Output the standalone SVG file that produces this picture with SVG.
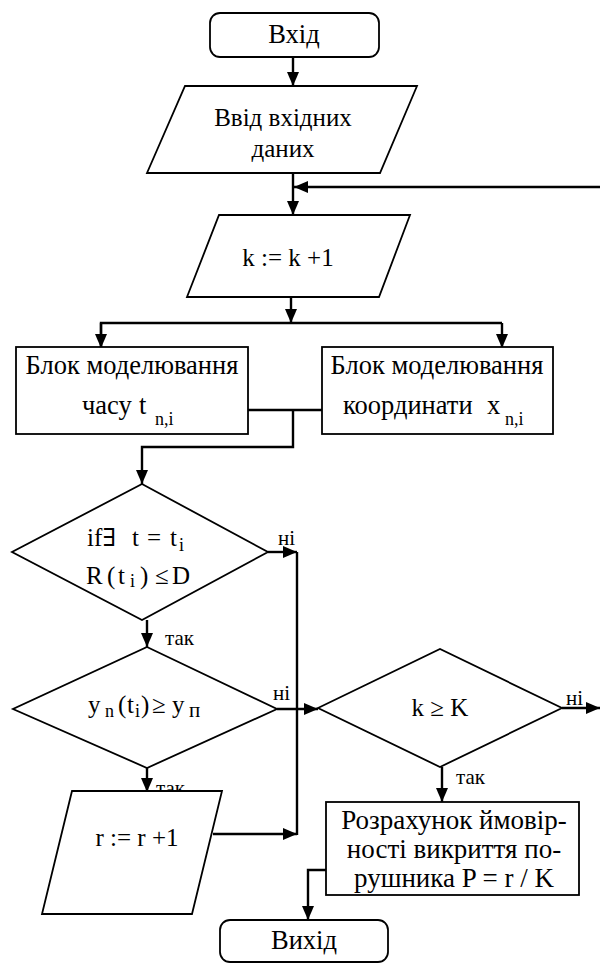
<svg xmlns="http://www.w3.org/2000/svg" width="600" height="963" viewBox="0 0 600 963" font-family="Liberation Serif, Times New Roman, DejaVu Serif, serif">
<style>
.s{fill:#fff;stroke:#000;stroke-width:1.8}
.c{fill:none;stroke:#000;stroke-width:2.4}
.a{marker-end:url(#ah)}
text{font-size:25px;fill:#000}
.m{text-anchor:middle}
.sub{font-size:18px}
.l{font-size:21px}
.b{font-size:26.5px}
.t{font-size:27px}
</style>
<defs>
<marker id="ah" markerUnits="userSpaceOnUse" markerWidth="14" markerHeight="14" viewBox="0 0 14 14" refX="14" refY="7" orient="auto">
<path d="M0,1 L14,7 L0,13 Z" fill="#000"/>
</marker>
</defs>
<g id="connectors">
<line class="c a" x1="293" y1="57" x2="293" y2="86"/>
<line class="c a" x1="293" y1="173" x2="293" y2="215"/>
<line class="c a" x1="600" y1="187" x2="294" y2="187"/>
<line class="c a" x1="291" y1="297" x2="291" y2="323"/>
<polyline class="c" points="101,347 101,323 502,323"/>
<line class="c a" x1="101" y1="323" x2="101" y2="348"/>
<line class="c a" x1="502" y1="323" x2="502" y2="348"/>
<line class="c" x1="248" y1="410" x2="322" y2="410"/>
<polyline class="c a" points="293,410 293,447 142,447 142,484"/>
<line class="c a" x1="268" y1="552" x2="297" y2="552"/>
<line class="c a" x1="147" y1="620" x2="147" y2="647"/>
<line class="c" x1="297" y1="552" x2="297" y2="835"/>
<line class="c a" x1="277" y1="709" x2="318" y2="709"/>
<line class="c a" x1="562" y1="708" x2="600" y2="708"/>
<line class="c a" x1="442" y1="767" x2="442" y2="802"/>
<line class="c a" x1="147" y1="768" x2="147" y2="792"/>
<line class="c a" x1="213" y1="834" x2="297" y2="834"/>
<polyline class="c a" points="326,870 308,870 308,920"/>
</g>
<g id="labels">
<text class="l" x="278" y="545">ні</text>
<text class="l" x="165" y="645">так</text>
<text class="l" x="273" y="700">ні</text>
<text class="l" x="566" y="705">ні</text>
<text class="l" x="456" y="784">так</text>
<text class="l" x="156" y="795">так</text>
</g>
<g id="start">
<rect class="s" x="210" y="13" width="169" height="44" rx="10"/>
<text class="m b" x="294" y="43">Вхід</text>
</g>
<g id="input">
<polygon class="s" points="185,86 417,86 380,173 147,173"/>
<text class="m" x="283" y="126">Ввід вхідних</text>
<text class="m" x="283" y="157">даних</text>
</g>
<g id="inc-k">
<polygon class="s" points="219,215 410,215 379,297 187,297"/>
<text class="m" x="288" y="266">k := k +1</text>
</g>
<g id="model-time">
<rect class="s" x="16" y="347" width="232" height="87"/>
<text class="m b" x="132" y="374">Блок моделювання</text>
<text class="b" y="414"><tspan x="82">часу</tspan><tspan x="139">t</tspan><tspan class="sub" x="155" dy="11">n,i</tspan></text>
</g>
<g id="model-coord">
<rect class="s" x="322" y="347" width="231" height="87"/>
<text class="m b" x="437" y="374">Блок моделювання</text>
<text class="b" y="414"><tspan x="343">координати</tspan><tspan x="487">x</tspan><tspan class="sub" x="505" dy="11">n,i</tspan></text>
</g>
<g id="cond-exists">
<polygon class="s" points="142,484 268,552 142,620 12,552"/>
<text y="546"><tspan x="87">if∃</tspan><tspan x="132">t</tspan><tspan x="147">=</tspan><tspan x="170">t</tspan><tspan class="sub" x="179" dy="5">i</tspan></text>
<text y="584"><tspan x="86">R</tspan><tspan x="107">(</tspan><tspan x="118">t</tspan><tspan class="sub" x="130" dy="3">i</tspan><tspan x="140" dy="-3">)</tspan><tspan x="155">≤</tspan><tspan x="172">D</tspan></text>
</g>
<g id="cond-y">
<polygon class="s" points="147,647 277,709 147,768 13,709"/>
<text y="713"><tspan x="88">y</tspan><tspan class="sub" x="105" dy="4">n</tspan><tspan x="118" dy="-4">(</tspan><tspan x="127">t</tspan><tspan class="sub" x="135" dy="4">i</tspan><tspan x="141" dy="-4">)</tspan><tspan x="152">≥</tspan><tspan x="172">y</tspan><tspan class="sub" x="189" dy="4" style="font-size:21px">п</tspan></text>
</g>
<g id="cond-k">
<polygon class="s" points="318,708 440,649 562,708 440,767"/>
<text class="m" x="440" y="716">k ≥ K</text>
</g>
<g id="inc-r">
<polygon class="s" points="72,791 222,791 192,914 42,914"/>
<text class="m" x="137" y="846">r := r +1</text>
</g>
<g id="calc">
<rect class="s" x="326" y="802" width="253" height="93"/>
<text class="m t" x="454" y="829">Розрахунок ймовір-</text>
<text class="m t" x="454" y="858">ності викриття по-</text>
<text class="m t" x="454" y="887">рушника  P = r / K</text>
</g>
<g id="end">
<rect class="s" x="220" y="920" width="168" height="42" rx="10"/>
<text class="m b" x="304" y="949">Вихід</text>
</g>
</svg>
